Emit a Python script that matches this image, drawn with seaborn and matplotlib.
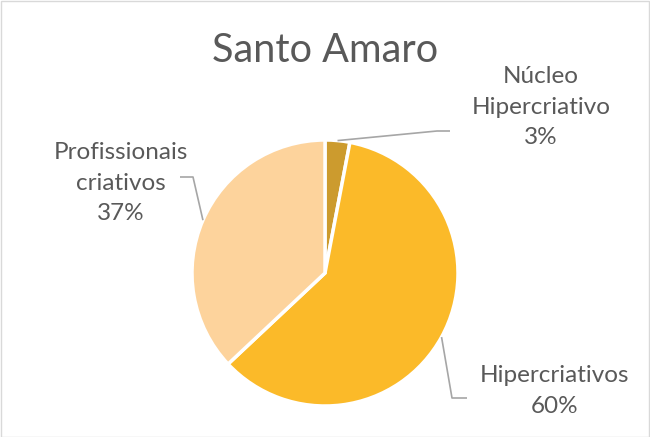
"""
plot.py — Santo Amaro pie chart (share of creative professionals).
"""
import matplotlib
matplotlib.use("Agg")
import matplotlib.pyplot as plt
import numpy as np
import seaborn as sns
from matplotlib.patches import Rectangle

# Data
categories = ["Núcleo\nHipercriativo", "Hipercriativos", "Profissionais\ncriativos"]
shares = [3, 60, 37]
colors = ["#CC9B2E", "#FBBA29", "#FDD39C"]

# Layout (figure laid out in pixel units, origin bottom-left)
W, H = 650, 437
CENTER = (325, 164)
RADIUS = 133
label_pos = [(541, 330), (555, 46), (121, 254)]
# elbow and end point of each leader line
leader_elbows = [[(437, 306), (450, 306)],
                 [(452, 39), (467, 39)],
                 [(193, 260), (180, 260)]]

TEXT = "#595959"
LINE = "#A6A6A6"

sns.set_style("white")
plt.rcParams["font.family"] = ["Lato", "DejaVu Sans"]

fig = plt.figure(figsize=(W / 100, H / 100), dpi=100)
ax = fig.add_axes([0, 0, 1, 1])
ax.set_xlim(0, W)
ax.set_ylim(0, H)
ax.set_aspect("equal")
ax.axis("off")

wedges, _ = ax.pie(
    shares,
    colors=sns.color_palette(colors),
    startangle=90,
    counterclock=False,
    center=CENTER,
    radius=RADIUS,
    wedgeprops={"edgecolor": "white", "linewidth": 2.5},
)
ax.set_xlim(0, W)
ax.set_ylim(0, H)

for w, name, share, (tx, ty), elbow in zip(wedges, categories, shares,
                                          label_pos, leader_elbows):
    mid = np.deg2rad((w.theta1 + w.theta2) / 2)
    sx = CENTER[0] + RADIUS * np.cos(mid)
    sy = CENTER[1] + RADIUS * np.sin(mid)
    xs = [sx] + [p[0] for p in elbow]
    ys = [sy] + [p[1] for p in elbow]
    ax.plot(xs, ys, color=LINE, lw=1.2, solid_capstyle="butt")
    ax.text(tx, ty, f"{name}\n{share}%", ha="center", va="center",
            fontsize=17.5, color=TEXT, linespacing=1.55)

ax.text(W / 2, 386, "Santo Amaro", ha="center", va="center",
        fontsize=28.5, color=TEXT)

# chart-area border
fig.patches.append(Rectangle((0.5 / W, 0.5 / H), 1 - 1.5 / W, 1 - 1.5 / H,
                             transform=fig.transFigure, fill=False,
                             edgecolor="#D9D9D9", lw=1))

fig.savefig("out.png", dpi=100)
